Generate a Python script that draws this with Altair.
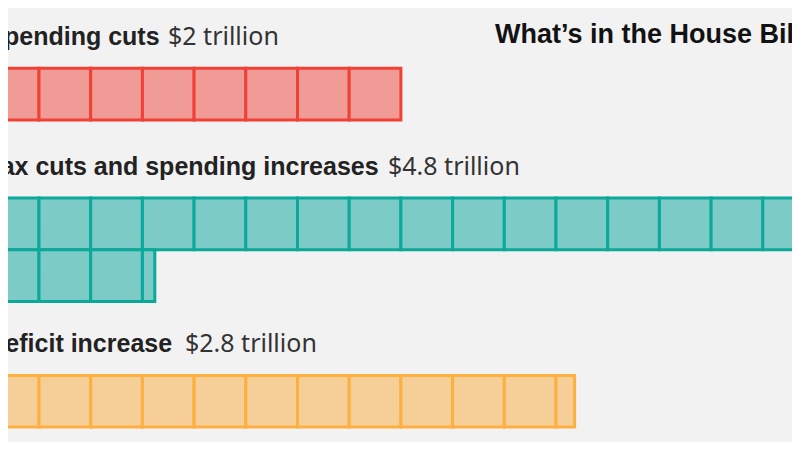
import math
import altair as alt
import pandas as pd

# ---------------- data ----------------
categories = ["Spending cuts", "Tax cuts and spending increases", "Deficit increase"]
amounts = [2.0, 4.81, 2.84]          # trillions of dollars, as drawn by the blocks
amount_labels = ["$2 trillion", "$4.8 trillion", "$2.8 trillion"]
title_text = "What’s in the House Bill"
fills = ["#f19b97", "#7dcbc6", "#f6cf98"]
strokes = ["#ef4136", "#0ca89a", "#fbb040"]

UNIT = 0.25      # trillion per block
PER_ROW = 16     # blocks per row

# ---------------- layout (page pixels) ----------------
W, H = 784, 434
ORIGIN_X = -12.7     # left edge of block column 0
BLOCK = 51.7         # block size
FIRST_TOP = 68.3
GAPS = [78, 74]
LABEL_OFF = 23.5
VALUE_X = [168, 388, 185]
TITLE_X = 495
TITLE_BASE = 43

# build the block rows
rects = []
texts = []
top = FIRST_TOP
for i, (cat, amt) in enumerate(zip(categories, amounts)):
    n = amt / UNIT
    nblocks = math.ceil(n - 1e-9)
    for k in range(nblocks):
        col = k % PER_ROW
        row = k // PER_ROW
        width = min(1.0, n - k)
        rects.append({
            "cat": cat,
            "x0": col, "x1": col + width,
            "y0": top + row * BLOCK, "y1": top + (row + 1) * BLOCK,
        })
    nrows = math.ceil(nblocks / PER_ROW)
    texts.append({
        "cat": cat, "bold": cat, "value": amount_labels[i],
        "xb": 0.0, "xv": (VALUE_X[i] - ORIGIN_X) / BLOCK,
        "y": top - LABEL_OFF,
    })
    if i < len(GAPS):
        top = top + nrows * BLOCK + GAPS[i]

rect_df = pd.DataFrame(rects)
text_df = pd.DataFrame(texts)
title_df = pd.DataFrame([{"t": title_text, "x": (TITLE_X - ORIGIN_X) / BLOCK, "y": TITLE_BASE}])

xscale = alt.Scale(domain=[(8 - ORIGIN_X) / BLOCK, (8 + W - ORIGIN_X) / BLOCK], nice=False, zero=False)
yscale = alt.Scale(domain=[8 + H, 8], nice=False, zero=False)

blocks = alt.Chart(rect_df).mark_rect(strokeWidth=3, clip=True).encode(
    x=alt.X("x0:Q", scale=xscale, axis=None),
    x2="x1:Q",
    y=alt.Y("y0:Q", scale=yscale, axis=None),
    y2="y1:Q",
    fill=alt.Fill("cat:N", scale=alt.Scale(domain=categories, range=fills), legend=None),
    stroke=alt.Stroke("cat:N", scale=alt.Scale(domain=categories, range=strokes), legend=None),
)

bold_labels = alt.Chart(text_df).mark_text(
    align="left", baseline="alphabetic", font="Liberation Sans", fontWeight="bold",
    fontSize=25, color="#222222", clip=True,
).encode(
    x=alt.X("xb:Q", scale=xscale, axis=None),
    y=alt.Y("y:Q", scale=yscale, axis=None),
    text="bold:N",
)

value_labels = alt.Chart(text_df).mark_text(
    align="left", baseline="alphabetic", font="Noto Sans", fontWeight="normal",
    fontSize=25, color="#333333", clip=True,
).encode(
    x=alt.X("xv:Q", scale=xscale, axis=None),
    y=alt.Y("y:Q", scale=yscale, axis=None),
    text="value:N",
)

title = alt.Chart(title_df).mark_text(
    align="left", baseline="alphabetic", font="Liberation Sans", fontWeight="bold",
    fontSize=27, color="#121212", clip=True,
).encode(
    x=alt.X("x:Q", scale=xscale, axis=None),
    y=alt.Y("y:Q", scale=yscale, axis=None),
    text="t:N",
)

chart = alt.layer(blocks, bold_labels, value_labels, title).properties(
    width=W, height=H, background="#f2f2f2", padding=0,
    autosize=alt.AutoSizeParams(type="none"),
).configure_view(strokeWidth=0)

chart.save("out.html", embed_options={"renderer": "svg", "actions": False})
